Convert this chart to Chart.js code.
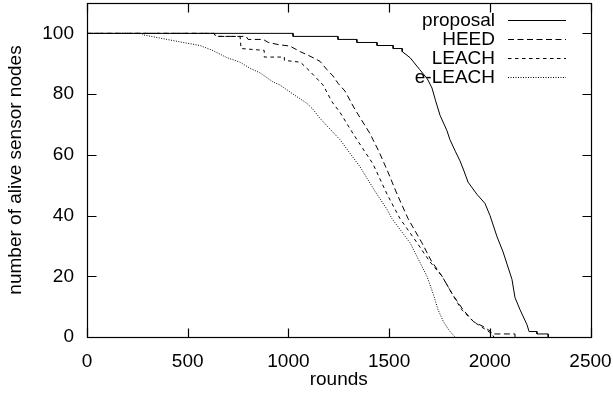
<!DOCTYPE html>
<html>
<head>
<meta charset="utf-8">
<script src="https://cdn.jsdelivr.net/npm/chart.js@4.4.1/dist/chart.umd.min.js"></script>
<style>
  body { margin: 0; background: #fff; }
</style>
</head>
<body>
<canvas id="lifetime-chart" width="613" height="400"></canvas>
<script>
const xTicks = [0, 500, 1000, 1500, 2000, 2500];
const yTicks = [0, 20, 40, 60, 80, 100];
const seriesNames = ['proposal', 'HEED', 'LEACH', 'e-LEACH'];

const proposalRounds = [0, 1023, 1023, 1246, 1246, 1340, 1340, 1440, 1440, 1520, 1520, 1565, 1565, 1604, 1653, 1690, 1713, 1730, 1753, 1787, 1802, 1830, 1852, 1870, 1892, 1936, 1976, 2001, 2036, 2066, 2110, 2125, 2150, 2185, 2195, 2234, 2234, 2290, 2290];
const proposalNodes  = [100, 100, 99, 99, 98, 98, 97, 97, 96, 96, 95, 95, 94, 92, 88, 85, 82, 78, 73, 68, 65, 61, 58, 55, 51, 47, 44, 40, 33, 28, 19, 13, 9, 4, 1.8, 1.8, 1, 1, 0];

const heedRounds = [0, 630, 640, 790, 800, 875, 900, 950, 1008, 1058, 1107, 1157, 1192, 1221, 1247, 1281, 1330, 1405, 1450, 1490, 1540, 1594, 1663, 1710, 1763, 1815, 1867, 1920, 1966, 2001, 2010, 2125, 2125];
const heedNodes  = [100, 100, 99, 99, 98, 98, 97, 96.3, 95.8, 94, 92.5, 90.8, 88, 86, 83.5, 81, 75, 67, 61, 55, 47, 39, 31, 25, 20, 14, 9, 5, 3.5, 2, 1, 1, 0];

const leachRounds = [0, 630, 640, 760, 765, 880, 880, 980, 980, 1060, 1107, 1172, 1216, 1256, 1321, 1370, 1420, 1490, 1554, 1639, 1700, 1763, 1815, 1860, 1920, 1966, 1990, 2010, 2020];
const leachNodes  = [100, 100, 99, 99, 95, 94.4, 92.2, 92.2, 91.1, 90.5, 87.5, 83, 77.5, 74, 67, 62, 57, 47, 39, 31, 25, 20, 14, 9, 5, 3, 2, 1, 0];

const eleachRounds = [0, 270, 280, 397, 477, 561, 620, 695, 760, 809, 859, 924, 958, 1023, 1091, 1122, 1157, 1256, 1356, 1430, 1490, 1514, 1604, 1650, 1688, 1720, 1743, 1770, 1800, 1827];
const eleachNodes  = [100, 100, 99.5, 98, 97, 96, 94.5, 92, 90.5, 88.5, 87, 84, 83, 80, 77, 75, 72, 65, 56, 48, 42, 39, 31, 25, 20, 14, 9, 5, 2, 0];

const lineDashes = [[], [6, 3.5], [3.5, 3.5], [1, 1.5]];
const axisFont = { family: '"Liberation Sans", Arial, sans-serif', size: 19 };

function toPoints(xs, ys) {
    return xs.map(function(x, i) { return { x: x, y: ys[i] }; });
}

const seriesPoints = [
    toPoints(proposalRounds, proposalNodes),
    toPoints(heedRounds, heedNodes),
    toPoints(leachRounds, leachNodes),
    toPoints(eleachRounds, eleachNodes)
];

// gnuplot style: closed frame, ticks pointing inwards, key on the top right
const framePlugin = {
    id: 'frame',
    afterDatasetsDraw(chart) {
        const ctx = chart.ctx;
        const area = chart.chartArea;
        const xs = chart.scales.x;
        const ys = chart.scales.y;
        const left = Math.round(area.left) + 0.5;
        const right = Math.round(area.right) + 0.5;
        const top = Math.round(area.top) + 0.5;
        const bottom = Math.round(area.bottom) + 0.5;
        const tick = 9;

        ctx.save();
        ctx.strokeStyle = '#000';
        ctx.lineWidth = 1.2;
        ctx.setLineDash([]);
        ctx.strokeRect(left, top, right - left, bottom - top);

        ctx.beginPath();
        xTicks.forEach(function(v) {
            const px = Math.round(xs.getPixelForValue(v)) + 0.5;
            ctx.moveTo(px, bottom);
            ctx.lineTo(px, bottom - tick);
            ctx.moveTo(px, top);
            ctx.lineTo(px, top + tick);
        });
        yTicks.forEach(function(v) {
            const py = Math.round(ys.getPixelForValue(v)) + 0.5;
            ctx.moveTo(left, py);
            ctx.lineTo(left + tick, py);
            ctx.moveTo(right, py);
            ctx.lineTo(right - tick, py);
        });
        ctx.stroke();

        // key
        ctx.font = '19px "Liberation Sans", Arial, sans-serif';
        ctx.fillStyle = '#000';
        ctx.textAlign = 'right';
        ctx.textBaseline = 'middle';
        const rowY = [20, 39, 58, 77];
        seriesNames.forEach(function(name, i) {
            ctx.fillText(name, 495, rowY[i] + 1);
            ctx.beginPath();
            ctx.lineWidth = 1;
            ctx.setLineDash(lineDashes[i]);
            ctx.moveTo(508, rowY[i] + 0.5);
            ctx.lineTo(566, rowY[i] + 0.5);
            ctx.stroke();
        });
        ctx.restore();
    }
};

function noScalePadding(scale) {
    scale.paddingTop = 0;
    scale.paddingBottom = 0;
    scale.paddingLeft = 0;
    scale.paddingRight = 0;
}

let lifetimeChart = new Chart(document.getElementById('lifetime-chart').getContext('2d'), {
    type: 'line',
    data: {
        datasets: seriesNames.map(function(name, i) {
            return {
                label: name,
                data: seriesPoints[i],
                borderColor: '#000',
                borderWidth: 1,
                borderDash: lineDashes[i],
                pointRadius: 0,
                fill: false,
                tension: 0
            };
        })
    },
    options: {
        responsive: false,
        animation: false,
        maintainAspectRatio: false,
        layout: { padding: { top: 3, right: 22.5, left: 0, bottom: 0 } },
        plugins: {
            legend: { display: false },
            tooltip: { enabled: false }
        },
        scales: {
            x: {
                type: 'linear',
                min: 0,
                max: 2500,
                grid: { display: false, drawTicks: false },
                border: { display: false },
                ticks: { color: '#000', font: axisFont, padding: 13, maxRotation: 0, callback: function(v) { return String(v); } },
                afterBuildTicks: function(scale) { scale.ticks = xTicks.map(function(v) { return { value: v }; }); },
                afterFit: function(scale) { scale.height = 63; noScalePadding(scale); },
                title: { display: true, text: 'rounds', color: '#000', font: axisFont, padding: { top: 0, bottom: 9 } }
            },
            y: {
                min: 0,
                max: 110,
                grid: { display: false, drawTicks: false },
                border: { display: false },
                ticks: { color: '#000', font: axisFont, padding: 13, callback: function(v) { return String(v); } },
                afterBuildTicks: function(scale) { scale.ticks = yTicks.map(function(v) { return { value: v }; }); },
                afterFit: function(scale) { scale.width = 87; noScalePadding(scale); },
                title: { display: true, text: 'number of alive sensor nodes', color: '#000', font: axisFont, padding: { top: 4, bottom: 0 } }
            }
        }
    },
    plugins: [framePlugin]
});
</script>
</body>
</html>
